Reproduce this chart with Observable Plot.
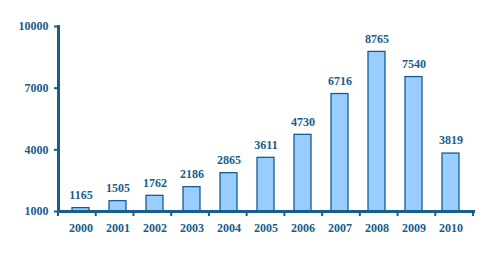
<!DOCTYPE html>
<html><head><meta charset="utf-8">
<script src="https://cdn.jsdelivr.net/npm/d3@7"></script>
<script src="https://cdn.jsdelivr.net/npm/@observablehq/plot@0.6"></script>
<style>
body{margin:0;background:#fff}
#chart svg, #chart svg text { font-family: "Liberation Serif", "Times New Roman", serif !important; font-weight: bold; font-size: 12px; }
</style>
</head><body><div id="chart"></div>
<script>
const years = ["2000","2001","2002","2003","2004","2005","2006","2007","2008","2009","2010"];
const values = [1165,1505,1762,2186,2865,3611,4730,6716,8765,7540,3819];
const yTicks = [1000,4000,7000,10000];

const data = years.map((y,i)=>({year:y, value:values[i]}));
const blue = "#175E8C";

const boundaryTicks = (index, scales, values, dims) => {
  const g = d3.create("svg:g");
  const n = years.length;
  const step = (dims.width - dims.marginLeft - dims.marginRight) / n;
  const y0 = dims.height - dims.marginBottom;
  for (let i = 0; i <= n; i++) {
    const x = dims.marginLeft + i * step;
    g.append("line").attr("x1", x).attr("x2", x).attr("y1", y0).attr("y2", y0 + 5)
      .attr("stroke", blue).attr("stroke-width", 2);
  }
  return g.node();
};

const chart = Plot.plot({
  width: 488, height: 258,
  marginLeft: 58, marginRight: 15, marginTop: 26, marginBottom: 47,
  style: {color: blue, background: "#fff"},
  x: {domain: years, paddingInner: 0.55, paddingOuter: 0.275, label: null},
  y: {domain: [1000, 10000], label: null},
  marks: [
    Plot.barY(data, {x: "year", y1: 1000, y2: "value", fill: "#99CCFF", stroke: blue, strokeWidth: 1.3}),
    Plot.text(data, {x: "year", y: "value", text: d => String(d.value), dy: -13, fill: blue}),
    Plot.axisY({ticks: yTicks, tickSize: 4, tickPadding: 6, stroke: blue, strokeWidth: 2, fill: blue, tickFormat: d => String(d), label: null}),
    Plot.axisX({tickSize: 0, tickPadding: 12, fill: blue, label: null}),
    Plot.frame({anchor: "left", stroke: blue, strokeWidth: 3}),
    Plot.frame({anchor: "bottom", stroke: blue, strokeWidth: 3}),
    boundaryTicks
  ]
});
document.getElementById("chart").appendChild(chart);
</script>
</body></html>
